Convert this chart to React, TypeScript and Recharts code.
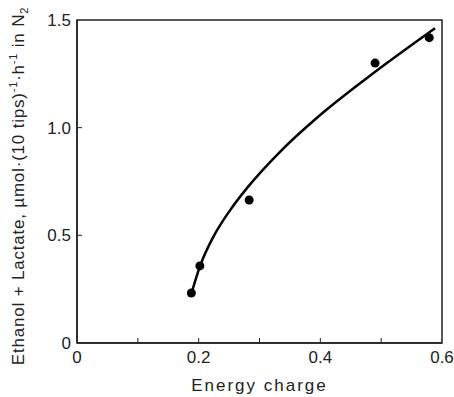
import {
  ComposedChart,
  Line,
  Scatter,
  XAxis,
  YAxis,
  ReferenceArea,
  Label,
} from "recharts";

const X_TICKS = [0, 0.1, 0.2, 0.3, 0.4, 0.5, 0.6];
const X_LABELED = [0, 0.2, 0.4, 0.6];
const Y_TICKS = [0, 0.5, 1.0, 1.5];

// measured points
const POINT_X = [0.188, 0.202, 0.283, 0.49, 0.579];
const POINT_Y = [0.232, 0.358, 0.664, 1.3, 1.418];

// fitted curve as drawn
const CURVE_X = [0.1885, 0.2022, 0.2241, 0.2515, 0.279, 0.3337, 0.394, 0.4762, 0.5885];
const CURVE_Y = [0.234, 0.357, 0.493, 0.616, 0.718, 0.888, 1.045, 1.23, 1.462];

const points = POINT_X.map((x, i) => ({ x, y: POINT_Y[i] }));
const curve = CURVE_X.map((x, i) => ({ x, y: CURVE_Y[i] }));

const FONT = "'Liberation Sans', Arial, sans-serif";

const XTick = (props: any) => {
  const { x, y, payload } = props;
  const v = payload.value;
  const labeled = X_LABELED.some((t) => Math.abs(t - v) < 1e-6);
  return (
    <g>
      {v > 0 && v < 0.6 && (
        <line x1={x} x2={x} y1={y} y2={y - 5} stroke="#222" strokeWidth={1} />
      )}
      {labeled && (
        <text x={x} y={y + 20} textAnchor="middle" fontSize={17} fontFamily={FONT} fill="#222">
          {v === 0 ? "0" : v.toFixed(1)}
        </text>
      )}
    </g>
  );
};

const YTick = (props: any) => {
  const { x, y, payload } = props;
  const v = payload.value;
  return (
    <g>
      {v > 0 && v < 1.5 && (
        <line x1={x} x2={x + 5} y1={y} y2={y} stroke="#222" strokeWidth={1} />
      )}
      <text x={x - 6} y={y + 6} textAnchor="end" fontSize={17} fontFamily={FONT} fill="#222">
        {v === 0 ? "0" : v.toFixed(1)}
      </text>
    </g>
  );
};

const YTitle = () => {
  const cy = 186;
  const cx = 24;
  return (
    <text
      transform={`translate(${cx},${cy}) rotate(-90)`}
      textAnchor="middle"
      fontSize={17}
      fontFamily={FONT}
      fill="#222"
      letterSpacing={0.8}
    >
      <tspan>Ethanol + Lactate, µmol·(10 tips)</tspan>
      <tspan fontSize={11} dy={-7}>-1</tspan>
      <tspan dy={7}>·h</tspan>
      <tspan fontSize={11} dy={-7}>-1</tspan>
      <tspan dy={7}> in N</tspan>
      <tspan fontSize={11} dy={4}>2</tspan>
    </text>
  );
};

export default function App() {
  return (
    <div style={{ position: "absolute", left: 0, top: 0, background: "#fff" }}>
      <ComposedChart
        width={454}
        height={397}
        margin={{ top: 20, right: 12, bottom: 0, left: 27 }}
      >
        <XAxis
          type="number"
          dataKey="x"
          domain={[0, 0.6]}
          ticks={X_TICKS}
          tick={<XTick />}
          tickLine={false}
          tickSize={0}
          tickMargin={0}
          axisLine={{ stroke: "#222", strokeWidth: 1.5 }}
          allowDuplicatedCategory={false}
          height={54}
        >
          <Label
            value="Energy charge"
            position="insideBottom"
            offset={6}
            style={{ fontSize: 17, fontFamily: FONT, fill: "#222", letterSpacing: 2 }}
          />
        </XAxis>
        <YAxis
          type="number"
          dataKey="y"
          domain={[0, 1.5]}
          ticks={Y_TICKS}
          tick={<YTick />}
          tickLine={false}
          tickSize={0}
          tickMargin={0}
          axisLine={{ stroke: "#222", strokeWidth: 1.5 }}
          width={50}
        >
          <Label content={<YTitle />} />
        </YAxis>
        <ReferenceArea
          x1={0}
          x2={0.6}
          y1={0}
          y2={1.5}
          fill="none"
          stroke="#222"
          strokeWidth={1.5}
          ifOverflow="visible"
        />
        <Line
          data={curve}
          dataKey="y"
          type="monotone"
          stroke="#000"
          strokeWidth={2.5}
          dot={false}
          isAnimationActive={false}
        />
        <Scatter
          data={points}
          dataKey="y"
          fill="#000"
          shape={(p: any) => <circle cx={p.cx} cy={p.cy} r={4.5} fill="#000" />}
          isAnimationActive={false}
        />
      </ComposedChart>
    </div>
  );
}
